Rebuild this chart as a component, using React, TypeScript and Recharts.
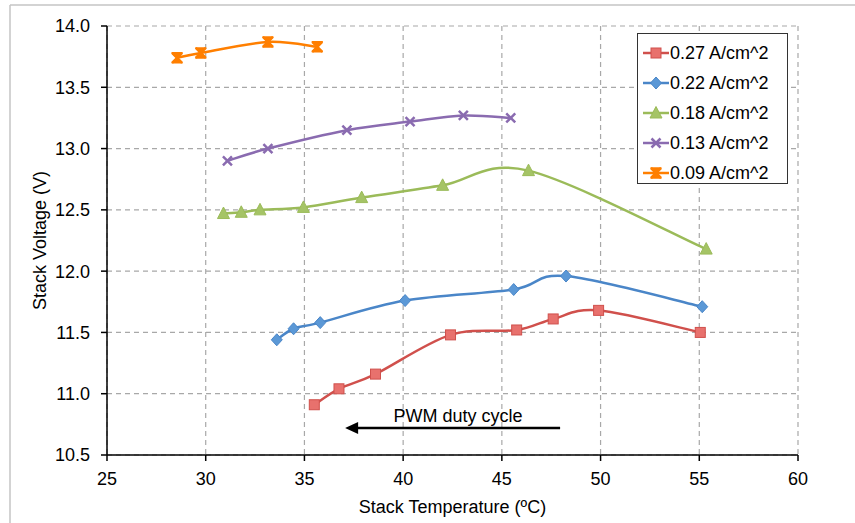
import React from "react"
import {
  ScatterChart,
  Scatter,
  XAxis,
  YAxis,
  CartesianGrid,
  ReferenceLine,
  ReferenceDot,
} from "recharts"

const temps027 = [35.5, 36.75, 38.6, 42.4, 45.75, 47.6, 49.9, 55.05]
const volts027 = [10.91, 11.04, 11.16, 11.48, 11.52, 11.61, 11.68, 11.5]
const temps022 = [33.6, 34.45, 35.8, 40.1, 45.6, 48.25, 55.15]
const volts022 = [11.44, 11.53, 11.58, 11.76, 11.85, 11.96, 11.71]
const temps018 = [30.9, 31.8, 32.75, 34.95, 37.9, 42.0, 46.35, 55.35]
const volts018 = [12.47, 12.48, 12.5, 12.52, 12.6, 12.7, 12.82, 12.18]
const temps013 = [31.1, 33.15, 37.15, 40.35, 43.05, 45.45]
const volts013 = [12.9, 13.0, 13.15, 13.22, 13.27, 13.25]
const temps009 = [28.55, 29.75, 33.15, 35.65]
const volts009 = [13.74, 13.78, 13.87, 13.83]

const seriesNames = ["0.27 A/cm^2", "0.22 A/cm^2", "0.18 A/cm^2", "0.13 A/cm^2", "0.09 A/cm^2"]
const xTicks = [25, 30, 35, 40, 45, 50, 55, 60]
const yTicks = [10.5, 11, 11.5, 12, 12.5, 13, 13.5, 14]

const FONT = "'Liberation Sans', Arial, sans-serif"

const zip = (xs: number[], ys: number[]) => xs.map((x, i) => ({ x, y: ys[i] }))

const series = [
  { name: seriesNames[0], data: zip(temps027, volts027), line: "#D0504C", fill: "#E8716D", marker: "square" },
  { name: seriesNames[1], data: zip(temps022, volts022), line: "#4A86C8", fill: "#5B98D6", marker: "diamond" },
  { name: seriesNames[2], data: zip(temps018, volts018), line: "#9BBB59", fill: "#A5C466", marker: "triangle" },
  { name: seriesNames[3], data: zip(temps013, volts013), line: "#8A6BB0", fill: "#8A6BB0", marker: "x" },
  { name: seriesNames[4], data: zip(temps009, volts009), line: "#FF7F00", fill: "#FF7F00", marker: "star" },
]

// excel-ish smoothed line (catmull-rom through the points)
function smoothCurve(context: any) {
  let pts: number[][] = []
  return {
    areaStart() {},
    areaEnd() {},
    lineStart() {
      pts = []
    },
    point(x: number, y: number) {
      pts.push([+x, +y])
    },
    lineEnd() {
      if (!pts.length) return
      context.moveTo(pts[0][0], pts[0][1])
      for (let i = 0; i < pts.length - 1; i++) {
        const p0 = pts[i - 1] || pts[i]
        const p1 = pts[i]
        const p2 = pts[i + 1]
        const p3 = pts[i + 2] || p2
        context.bezierCurveTo(
          p1[0] + (p2[0] - p0[0]) / 6,
          p1[1] + (p2[1] - p0[1]) / 6,
          p2[0] - (p3[0] - p1[0]) / 6,
          p2[1] - (p3[1] - p1[1]) / 6,
          p2[0],
          p2[1]
        )
      }
    },
  }
}

function Marker({ kind, cx, cy, color, fill }: any) {
  if (cx == null || cy == null) return null
  if (kind === "square")
    return <rect x={cx - 5} y={cy - 5} width={10} height={10} fill={fill} stroke={color} strokeWidth={1} />
  if (kind === "diamond")
    return (
      <path d={`M${cx},${cy - 6}L${cx + 5.5},${cy}L${cx},${cy + 6}L${cx - 5.5},${cy}Z`} fill={fill} stroke={color} strokeWidth={1} />
    )
  if (kind === "triangle")
    return (
      <path d={`M${cx},${cy - 6.5}L${cx + 6},${cy + 5}L${cx - 6},${cy + 5}Z`} fill={fill} stroke={color} strokeWidth={1} />
    )
  if (kind === "x")
    return (
      <path d={`M${cx - 4.5},${cy - 4.5}L${cx + 4.5},${cy + 4.5}M${cx + 4.5},${cy - 4.5}L${cx - 4.5},${cy + 4.5}`} stroke={color} strokeWidth={2.5} />
    )
  // bow-tie star: filled hourglass with bars
  return (
    <g>
      <path
        d={`M${cx - 5},${cy - 5}L${cx + 5},${cy - 5}L${cx},${cy}L${cx + 5},${cy + 5}L${cx - 5},${cy + 5}L${cx},${cy}Z`}
        fill={fill}
        stroke={color}
        strokeWidth={1.5}
        strokeLinejoin="round"
      />
      <path d={`M${cx - 5},${cy - 5}L${cx + 5},${cy + 5}M${cx + 5},${cy - 5}L${cx - 5},${cy + 5}`} stroke={color} strokeWidth={2.5} />
    </g>
  )
}

function ArrowHead(props: any) {
  const { cx, cy } = props
  if (cx == null) return null
  return <path d={`M${cx},${cy}L${cx + 13},${cy - 6}L${cx + 13},${cy + 6}Z`} fill="#000" />
}

function YLabel(props: any) {
  const vb = props.viewBox || {}
  const cy = vb.y + vb.height / 2
  return (
    <text x={40} y={cy} transform={`rotate(-90 40 ${cy})`} textAnchor="middle" dominantBaseline="central" fontSize={18} fontFamily={FONT} fill="#000">
      Stack Voltage (V)
    </text>
  )
}

function LegendBox() {
  return (
    <div
      style={{
        position: "absolute",
        left: 637,
        top: 33,
        width: 151,
        height: 151,
        border: "1px solid #333",
        background: "#fff",
        boxSizing: "border-box",
        fontFamily: FONT,
        fontSize: 18,
      }}
    >
      {series.map((s, i) => (
        <div key={s.name} style={{ position: "absolute", left: 4, top: 7 + i * 30, height: 24, display: "flex", alignItems: "center" }}>
          <svg width={28} height={24} style={{ display: "block" }}>
            <line x1={1} y1={12} x2={27} y2={12} stroke={s.line} strokeWidth={2.5} />
            <Marker kind={s.marker} cx={14} cy={12} color={s.line} fill={s.fill} />
          </svg>
          <span style={{ whiteSpace: "nowrap" }}>{s.name}</span>
        </div>
      ))}
    </div>
  )
}

export default function App() {
  return (
    <div style={{ position: "absolute", left: 0, top: 0, width: 855, height: 523, background: "#fff" }}>
      <svg width={855} height={523} style={{ position: "absolute", left: 0, top: 0 }}>
        <line x1={10} y1={5} x2={855} y2={5} stroke="#c4c4c4" strokeWidth={1.5} />
        <line x1={10} y1={5} x2={10} y2={523} stroke="#c4c4c4" strokeWidth={1.5} />
      </svg>
      <div style={{ position: "absolute", left: 0, top: 0 }}>
        <ScatterChart width={855} height={523} margin={{ top: 26, right: 57, bottom: 0, left: 0 }}>
          <CartesianGrid stroke="#a8a8a8" strokeDasharray="5 4" strokeWidth={1.2} />
          <XAxis
            type="number"
            dataKey="x"
            domain={[25, 60]}
            ticks={xTicks}
            height={68}
            allowDataOverflow
            axisLine={{ stroke: "#000", strokeWidth: 1.5 }}
            tickLine={{ stroke: "#000", strokeWidth: 1.5 }}
            tickSize={6}
            tickMargin={11}
            tick={{ fontSize: 18, fontFamily: FONT, fill: "#000" }}
            label={{ value: "Stack Temperature (ºC)", position: "insideBottom", offset: 10, fontSize: 18, fontFamily: FONT, fill: "#000" }}
          />
          <YAxis
            type="number"
            dataKey="y"
            domain={[10.5, 14]}
            ticks={yTicks}
            width={107}
            allowDataOverflow
            axisLine={{ stroke: "#000", strokeWidth: 1.5 }}
            tickLine={{ stroke: "#000", strokeWidth: 1.5 }}
            tickSize={6}
            tickMargin={11}
            tickFormatter={(v: number) => v.toFixed(1)}
            tick={{ fontSize: 18, fontFamily: FONT, fill: "#000" }}
            label={<YLabel />}
          />
          {series.map((s) => (
            <Scatter
              key={s.name}
              name={s.name}
              data={s.data}
              isAnimationActive={false}
              line={{ stroke: s.line, strokeWidth: 2.5 }}
              lineType="joint"
              lineJointType={smoothCurve as any}
              shape={(p: any) => <Marker kind={s.marker} cx={p.cx} cy={p.cy} color={s.line} fill={s.fill} />}
            />
          ))}
          <ReferenceLine
            segment={[
              { x: 47.95, y: 10.72 },
              { x: 37.6, y: 10.72 },
            ]}
            stroke="#000"
            strokeWidth={2.5}
            ifOverflow="visible"
            label={{ value: "PWM duty cycle", position: "top", offset: 6, fontSize: 18, fontFamily: FONT, fill: "#000" }}
          />
          <ReferenceDot x={37.06} y={10.72} r={6} shape={<ArrowHead />} ifOverflow="visible" />
        </ScatterChart>
      </div>
      <LegendBox />
    </div>
  )
}
